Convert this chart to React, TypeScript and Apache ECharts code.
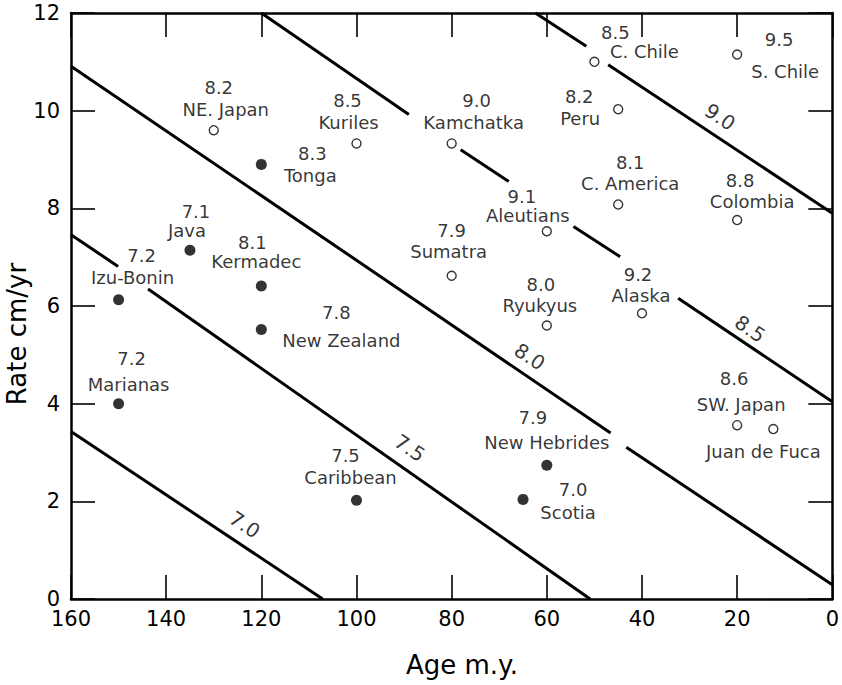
import React, { useEffect, useRef } from "react";
import * as echarts from "echarts";

const FONT = "DejaVu Sans";

// Subduction zones
const zoneNames = [
  "NE. Japan", "Tonga", "Kuriles", "Kamchatka", "Aleutians", "C. Chile", "S. Chile", "Peru",
  "C. America", "Colombia", "Sumatra", "Ryukyus", "Alaska", "SW. Japan", "Juan de Fuca",
  "Java", "Kermadec", "Izu-Bonin", "New Zealand", "Marianas", "Caribbean", "New Hebrides", "Scotia",
];
const ages = [130, 120, 100, 80, 60, 50, 20, 45, 45, 20, 80, 60, 40, 20, 12.4, 135, 120, 150, 120, 150, 100, 60, 65];
const rates = [9.6, 8.9, 9.33, 9.33, 7.53, 11.0, 11.15, 10.03, 8.08, 7.76, 6.62, 5.6, 5.85, 3.56, 3.48, 7.14, 6.41, 6.13, 5.52, 4.0, 2.02, 2.74, 2.04];
const magnitudes = ["8.2", "8.3", "8.5", "9.0", "9.1", "8.5", "9.5", "8.2", "8.1", "8.8", "7.9", "8.0", "9.2", "8.6", "", "7.1", "8.1", "7.2", "7.8", "7.2", "7.5", "7.9", "7.0"];
const filled = [false, true, false, false, false, false, false, false, false, false, false, false, false, false, false, true, true, true, true, true, true, true, true];

// Magnitude isolines (segments, broken where labels sit)
const isoLevels = ["7.0", "7.5", "8.0", "8.5", "9.0"];
const isoSegments = [
  [[[160, 3.43], [107.1, 0]]],
  [[[160, 7.46], [150.1, 6.81]], [[143.8, 6.35], [50.9, 0]]],
  [[[160, 10.91], [46.6, 3.4]], [[43.3, 3.11], [0, 0.29]]],
  [[[120, 12], [89.0, 9.92]], [[78.1, 9.2], [68.0, 8.55]], [[54.4, 7.63], [44.6, 7.01]], [[32.4, 6.16], [0, 4.04]]],
  [[[62.4, 12], [51.7, 11.32]], [[47.1, 10.94], [0, 7.9]]],
];
const isoLabelAt = [[123.5, 1.52], [88.8, 3.09], [63.6, 4.96], [17.3, 5.53], [23.6, 9.87]];

// Label layout (pixel offsets from the point)
const magOffsets = [
  [5, -43], [51, -11], [-9, -43], [25, -43], [-25, -35], [21, -29], [42, -15], [-39, -13],
  [12, -42], [3, -40], [0, -45], [-6, -41], [-4, -39], [-3, -47], [0, 0],
  [6, -39], [-9, -43], [23, -44], [75, -17], [13, -45], [-11, -45], [-14, -48], [50, -10],
];
const nameOffsets = [
  [12, -21], [49, 11], [-8, -21], [22, -21], [-19, -16], [50, -10], [48, 17], [-38, 9],
  [12, -21], [15, -19], [-3, -24], [-7, -20], [-1, -18], [4, -21], [-10, 22],
  [-3, -20], [-5, -24], [14, -22], [80, 11], [10, -19], [-6, -23], [0, -23], [45, 13],
];

const xTicks = { min: 0, max: 160, interval: 20 };
const yTicks = { min: 0, max: 12, interval: 2 };

export default function App() {
  const ref = useRef<HTMLDivElement>(null);

  useEffect(() => {
    document.body.style.margin = "0";
    if (!ref.current) return;
    const chart = echarts.init(ref.current, undefined, { renderer: "svg" });

    const axisLine = { show: true, onZero: false, lineStyle: { color: "#000", width: 2.5 } };
    const axisTick = { show: true, inside: true, length: 24, lineStyle: { color: "#000", width: 1.6 } };

    const lineSeries: any[] = [];
    isoSegments.forEach((segs) => {
      segs.forEach((seg) => {
        lineSeries.push({
          type: "line",
          data: seg,
          symbol: "none",
          silent: true,
          lineStyle: { color: "#000", width: 3 },
          z: 2,
        });
      });
    });

    const pointData = (wantFilled: boolean) =>
      zoneNames
        .map((n, i) => ({ i, n }))
        .filter(({ i }) => filled[i] === wantFilled)
        .map(({ i, n }) => ({ name: n, value: [ages[i], rates[i]] }));

    const labelBase = {
      show: true,
      position: "inside",
      color: "#000",
      textBorderWidth: 0,
      fontFamily: FONT,
      fontSize: 18,
      lineHeight: 18,
      align: "center",
      verticalAlign: "middle",
    };

    const magData = zoneNames
      .map((n, i) => ({ i, n }))
      .filter(({ i }) => magnitudes[i] !== "")
      .map(({ i }) => ({
        value: [ages[i], rates[i]],
        label: { ...labelBase, formatter: magnitudes[i], offset: magOffsets[i] },
      }));

    const nameData = zoneNames.map((n, i) => ({
      value: [ages[i], rates[i]],
      label: { ...labelBase, formatter: n, offset: nameOffsets[i] },
    }));

    const isoLabelData = isoLevels.map((lv, i) => ({
      value: isoLabelAt[i],
      label: { ...labelBase, formatter: lv, rotate: -34, fontSize: 20, lineHeight: 20 },
    }));

    const option: any = {
      animation: false,
      backgroundColor: "#fff",
      textStyle: { fontFamily: FONT },
      grid: { left: 71, right: 8, top: 13, bottom: 86 },
      xAxis: [
        {
          type: "value", ...xTicks, inverse: true, position: "bottom",
          axisLine, axisTick,
          axisLabel: { color: "#000", fontSize: 21, margin: 9, fontFamily: FONT },
          splitLine: { show: false },
        },
        {
          type: "value", ...xTicks, inverse: true, position: "top",
          axisLine, axisTick, axisLabel: { show: false }, splitLine: { show: false },
        },
      ],
      yAxis: [
        {
          type: "value", ...yTicks, position: "left",
          axisLine, axisTick,
          axisLabel: { color: "#000", fontSize: 21, margin: 11, fontFamily: FONT },
          splitLine: { show: false },
        },
        {
          type: "value", ...yTicks, position: "right",
          axisLine, axisTick, axisLabel: { show: false }, splitLine: { show: false },
        },
      ],
      graphic: [
        {
          type: "text", x: 17, y: 334, rotation: Math.PI / 2,
          style: { text: "Rate cm/yr", fontFamily: FONT, fontSize: 26, fill: "#000", align: "center", verticalAlign: "middle" },
        },
        {
          type: "text", x: 462, y: 665,
          style: { text: "Age m.y.", fontFamily: FONT, fontSize: 26, fill: "#000", align: "center", verticalAlign: "middle" },
        },
      ],
      series: [
        ...lineSeries,
        {
          type: "scatter", name: "open", data: pointData(false), symbol: "circle", symbolSize: 9,
          itemStyle: { color: "#fff", borderColor: "#000", borderWidth: 1.4 }, z: 4,
        },
        {
          type: "scatter", name: "filled", data: pointData(true), symbol: "circle", symbolSize: 11,
          itemStyle: { color: "#000" }, z: 4,
        },
        { type: "scatter", name: "magnitudes", data: magData, symbolSize: 0, z: 5, silent: true },
        { type: "scatter", name: "names", data: nameData, symbolSize: 0, z: 5, silent: true },
        { type: "scatter", name: "levels", data: isoLabelData, symbolSize: 0, z: 5, silent: true },
      ],
    };

    chart.setOption(option);
    return () => chart.dispose();
  }, []);

  return <div ref={ref} style={{ width: 842, height: 685 }} />;
}
